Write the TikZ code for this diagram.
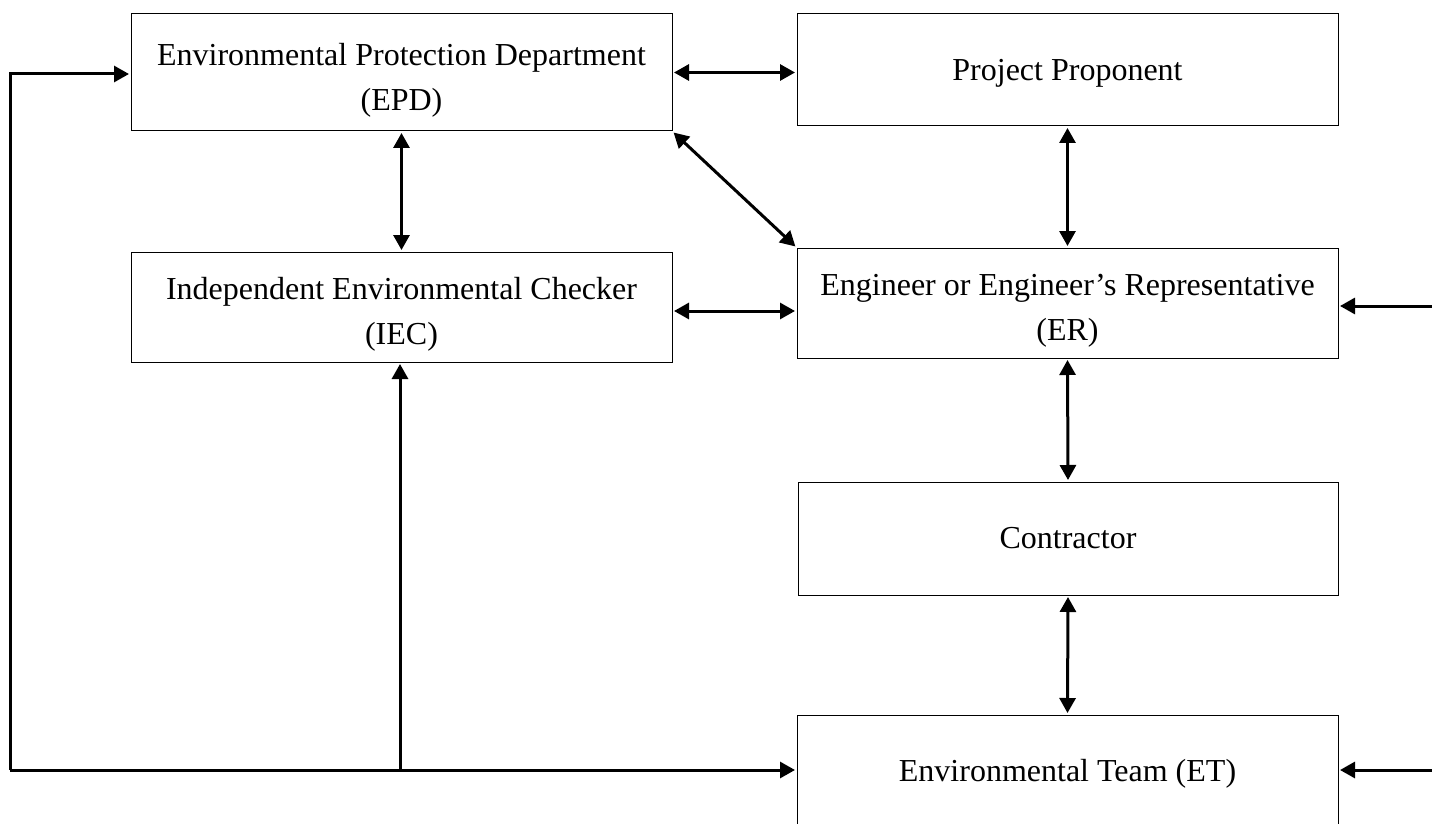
\documentclass[tikz,border=0pt]{standalone}
\usepackage{fontspec}
\setmainfont{Liberation Serif}
\usetikzlibrary{arrows.meta}
\tikzset{
  box/.style={draw, line width=1pt, inner sep=0pt, minimum width=541pt},
  txt/.style={align=center, inner sep=0pt, font=\fontsize{32}{45}\selectfont},
  biarrow/.style={line width=3pt, {Triangle[length=15pt,width=16pt]}-{Triangle[length=15pt,width=16pt]}, shorten <=1.5pt, shorten >=1.5pt},
  onearrow/.style={line width=3pt, -{Triangle[length=15pt,width=16pt]}, shorten >=1.5pt}
}
\begin{document}
\begin{tikzpicture}[x=1pt,y=-1pt]
\useasboundingbox (0,0) rectangle (1432,824);
\node[box, minimum height=117pt] (EPD) at (401.5,72.5) {};
\node[box, minimum height=112pt] (PP) at (1067.5,70) {};
\node[box, minimum height=110pt] (IEC) at (401.5,307) {};
\node[box, minimum height=110pt] (ER) at (1067.5,303) {};
\node[box, minimum height=113pt, minimum width=540pt] (CON) at (1068,538.5) {};
\node[box, minimum height=116pt] (ET) at (1067.5,773) {};

\node[txt] (EPDt) at ([yshift=-8pt]EPD.center) {Environmental Protection Department\\(EPD)};
\node[txt] (PPt) at ([yshift=-3pt]PP.center) {Project Proponent};
\node[txt] (IECt) at ([yshift=-7pt]IEC.center) {Independent Environmental Checker\\(IEC)};
\node[txt] (ERt) at ([yshift=-8pt]ER.center) {Engineer or Engineer’s Representative\\(ER)};
\node[txt] (CONt) at (CON.center) {Contractor};
\node[txt] (ETt) at ([yshift=-1pt]ET.center) {Environmental Team (ET)};

\draw[biarrow] (EPD.east) -- (EPD.east -| PP.west);
\draw[biarrow] (EPD.south) -- (IEC.north);
\draw[biarrow] (EPD.south east) -- (ER.north west);
\draw[biarrow] (PP.south) -- (ER.north);
\draw[biarrow] ([yshift=-4pt]IEC.east) -- ([yshift=-4pt]IEC.east -| ER.west);
\draw[biarrow] (ER.south) -- (CON.north);
\draw[biarrow] (CON.south) -- (ET.north);

\coordinate (r1) at (1432,306);
\coordinate (r2) at (1432,770);
\draw[onearrow] (r1) -- (r1 -| ER.east);
\draw[onearrow] (r2) -- (r2 -| ET.east);

\coordinate (lb) at (10,770);
\coordinate (lt) at (10,74);
\coordinate (mb) at (400,770);
\draw[onearrow] (lb) -- (lt) -- (lt -| EPD.west);
\draw[onearrow] (lb) -- (lb -| ET.west);
\draw[onearrow] (mb) -- (mb |- IEC.south);
\end{tikzpicture}
\end{document}
